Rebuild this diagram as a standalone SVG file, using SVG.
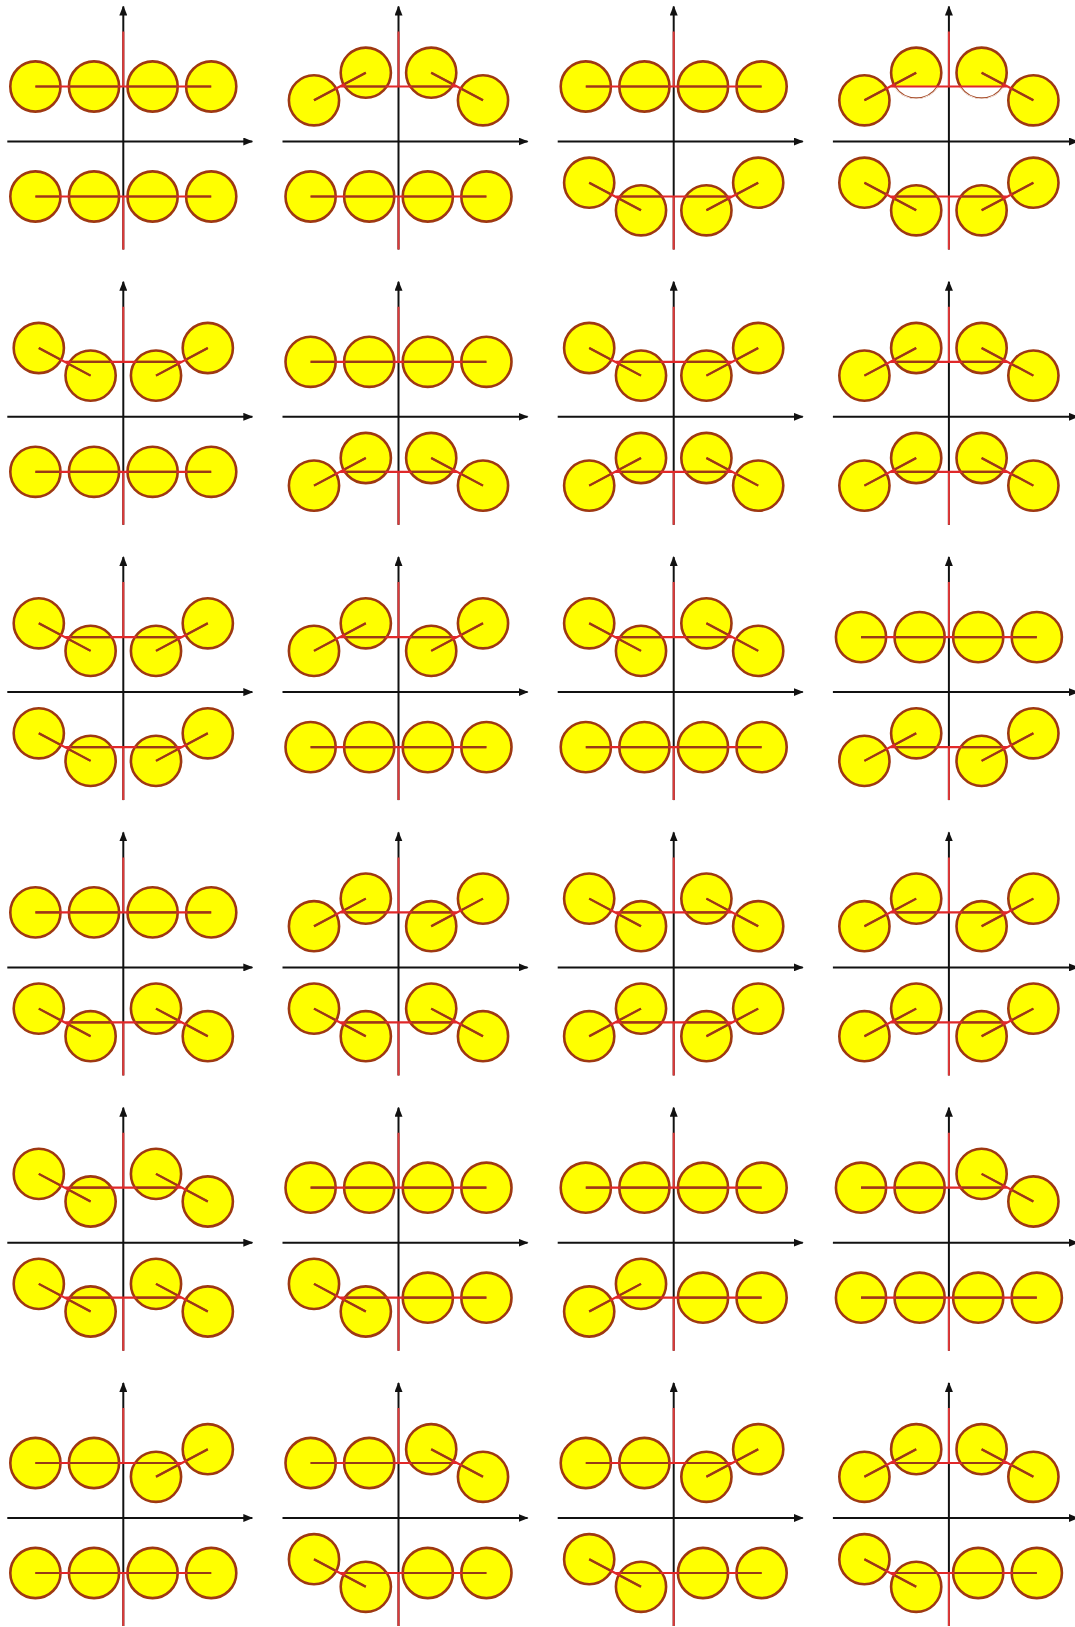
<svg xmlns="http://www.w3.org/2000/svg" xmlns:xlink="http://www.w3.org/1999/xlink" width="1075" height="1627" viewBox="0 0 1075 1627">
<defs>
<style>
.ax{stroke:#111;stroke-width:2;fill:none}
.rv{stroke:#e03838;stroke-width:2;fill:none}
.b{fill:#ffff00;stroke:#9e3812;stroke-width:2.6}
.rl{stroke:#e0282a;stroke-width:2.2;fill:none}
.bl{stroke:#963c16;stroke-width:2.2;fill:none}
.wh{fill:#ffffff;stroke:none}
.th{fill:none;stroke:#a8502e;stroke-width:1.2}
</style>
<marker id="ah" viewBox="0 0 10 8" refX="9" refY="4" markerWidth="10" markerHeight="8" markerUnits="userSpaceOnUse" orient="auto"><path d="M0,0 L10,4 L0,8 z" fill="#111"/></marker>
<clipPath id="kFF"><circle cx="-87.9" cy="0" r="24"/><circle cx="-29.3" cy="0" r="24"/><circle cx="29.3" cy="0" r="24"/><circle cx="87.9" cy="0" r="24"/></clipPath>
<clipPath id="kUU"><circle cx="-84.5" cy="13.8" r="24"/><circle cx="-32.7" cy="-13.8" r="24"/><circle cx="32.7" cy="-13.8" r="24"/><circle cx="84.5" cy="13.8" r="24"/></clipPath>
<clipPath id="kDD"><circle cx="-84.5" cy="-13.8" r="24"/><circle cx="-32.7" cy="13.8" r="24"/><circle cx="32.7" cy="13.8" r="24"/><circle cx="84.5" cy="-13.8" r="24"/></clipPath>
<clipPath id="kUD"><circle cx="-84.5" cy="13.8" r="24"/><circle cx="-32.7" cy="-13.8" r="24"/><circle cx="32.7" cy="13.8" r="24"/><circle cx="84.5" cy="-13.8" r="24"/></clipPath>
<clipPath id="kDU"><circle cx="-84.5" cy="-13.8" r="24"/><circle cx="-32.7" cy="13.8" r="24"/><circle cx="32.7" cy="-13.8" r="24"/><circle cx="84.5" cy="13.8" r="24"/></clipPath>
<clipPath id="kDF"><circle cx="-84.5" cy="-13.8" r="24"/><circle cx="-32.7" cy="13.8" r="24"/><circle cx="29.3" cy="0" r="24"/><circle cx="87.9" cy="0" r="24"/></clipPath>
<clipPath id="kUF"><circle cx="-84.5" cy="13.8" r="24"/><circle cx="-32.7" cy="-13.8" r="24"/><circle cx="29.3" cy="0" r="24"/><circle cx="87.9" cy="0" r="24"/></clipPath>
<clipPath id="kFU"><circle cx="-87.9" cy="0" r="24"/><circle cx="-29.3" cy="0" r="24"/><circle cx="32.7" cy="-13.8" r="24"/><circle cx="84.5" cy="13.8" r="24"/></clipPath>
<clipPath id="kFD"><circle cx="-87.9" cy="0" r="24"/><circle cx="-29.3" cy="0" r="24"/><circle cx="32.7" cy="13.8" r="24"/><circle cx="84.5" cy="-13.8" r="24"/></clipPath>

<g id="axes">
<path class="ax" d="M-116,0 H129" marker-end="url(#ah)"/>
<path class="ax" d="M0,108 V-135" marker-end="url(#ah)"/>
<path class="rv" d="M0,-110 V-55 M0,55 V108"/>
</g>

<g id="cFF">
<circle class="b" cx="-87.9" cy="0" r="25.1"/><circle class="b" cx="-29.3" cy="0" r="25.1"/><circle class="b" cx="29.3" cy="0" r="25.1"/><circle class="b" cx="87.9" cy="0" r="25.1"/>
<path class="rl" d="M-87.9,0 H87.9"/>
<path class="bl" d="M-87.9,0 H87.9" clip-path="url(#kFF)"/>
</g>
<g id="cUU">
<circle class="b" cx="-84.5" cy="13.8" r="25.1"/><circle class="b" cx="-32.7" cy="-13.8" r="25.1"/><circle class="b" cx="32.7" cy="-13.8" r="25.1"/><circle class="b" cx="84.5" cy="13.8" r="25.1"/>
<path class="rl" d="M-84.5,13.8 L-32.7,-13.8 M-58.6,0 H58.6 M32.7,-13.8 L84.5,13.8"/>
<path class="bl" d="M-84.5,13.8 L-32.7,-13.8 M-58.6,0 H58.6 M32.7,-13.8 L84.5,13.8" clip-path="url(#kUU)"/>
</g>
<g id="cUUx">
<circle class="b" cx="-32.7" cy="-13.8" r="25.1"/><circle class="b" cx="32.7" cy="-13.8" r="25.1"/>
<path class="wh" d="M-55.2,0 A26.4,26.4 0 0,0 -10.2,0 Z M10.2,0 A26.4,26.4 0 0,0 55.2,0 Z"/>
<path class="th" d="M-53.67,0 A25.1,25.1 0 0,0 -11.73,0 M11.73,0 A25.1,25.1 0 0,0 53.67,0"/>
<circle class="b" cx="-84.5" cy="13.8" r="25.1"/><circle class="b" cx="84.5" cy="13.8" r="25.1"/>
<path class="rl" d="M-84.5,13.8 L-32.7,-13.8 M-58.6,0 H58.6 M32.7,-13.8 L84.5,13.8"/>
<path class="bl" d="M-84.5,13.8 L-32.7,-13.8 M32.7,-13.8 L84.5,13.8" clip-path="url(#kUU)"/>
</g>
<g id="cDD">
<circle class="b" cx="-84.5" cy="-13.8" r="25.1"/><circle class="b" cx="-32.7" cy="13.8" r="25.1"/><circle class="b" cx="32.7" cy="13.8" r="25.1"/><circle class="b" cx="84.5" cy="-13.8" r="25.1"/>
<path class="rl" d="M-84.5,-13.8 L-32.7,13.8 M-58.6,0 H58.6 M32.7,13.8 L84.5,-13.8"/>
<path class="bl" d="M-84.5,-13.8 L-32.7,13.8 M-58.6,0 H58.6 M32.7,13.8 L84.5,-13.8" clip-path="url(#kDD)"/>
</g>
<g id="cUD">
<circle class="b" cx="-84.5" cy="13.8" r="25.1"/><circle class="b" cx="-32.7" cy="-13.8" r="25.1"/><circle class="b" cx="32.7" cy="13.8" r="25.1"/><circle class="b" cx="84.5" cy="-13.8" r="25.1"/>
<path class="rl" d="M-84.5,13.8 L-32.7,-13.8 M-58.6,0 H58.6 M32.7,13.8 L84.5,-13.8"/>
<path class="bl" d="M-84.5,13.8 L-32.7,-13.8 M-58.6,0 H58.6 M32.7,13.8 L84.5,-13.8" clip-path="url(#kUD)"/>
</g>
<g id="cDU">
<circle class="b" cx="-84.5" cy="-13.8" r="25.1"/><circle class="b" cx="-32.7" cy="13.8" r="25.1"/><circle class="b" cx="32.7" cy="-13.8" r="25.1"/><circle class="b" cx="84.5" cy="13.8" r="25.1"/>
<path class="rl" d="M-84.5,-13.8 L-32.7,13.8 M-58.6,0 H58.6 M32.7,-13.8 L84.5,13.8"/>
<path class="bl" d="M-84.5,-13.8 L-32.7,13.8 M-58.6,0 H58.6 M32.7,-13.8 L84.5,13.8" clip-path="url(#kDU)"/>
</g>
<g id="cDF">
<circle class="b" cx="-84.5" cy="-13.8" r="25.1"/><circle class="b" cx="-32.7" cy="13.8" r="25.1"/><circle class="b" cx="29.3" cy="0" r="25.1"/><circle class="b" cx="87.9" cy="0" r="25.1"/>
<path class="rl" d="M-84.5,-13.8 L-32.7,13.8 M-58.6,0 H87.9"/>
<path class="bl" d="M-84.5,-13.8 L-32.7,13.8 M-58.6,0 H87.9" clip-path="url(#kDF)"/>
</g>
<g id="cUF">
<circle class="b" cx="-84.5" cy="13.8" r="25.1"/><circle class="b" cx="-32.7" cy="-13.8" r="25.1"/><circle class="b" cx="29.3" cy="0" r="25.1"/><circle class="b" cx="87.9" cy="0" r="25.1"/>
<path class="rl" d="M-84.5,13.8 L-32.7,-13.8 M-58.6,0 H87.9"/>
<path class="bl" d="M-84.5,13.8 L-32.7,-13.8 M-58.6,0 H87.9" clip-path="url(#kUF)"/>
</g>
<g id="cFU">
<circle class="b" cx="-87.9" cy="0" r="25.1"/><circle class="b" cx="-29.3" cy="0" r="25.1"/><circle class="b" cx="32.7" cy="-13.8" r="25.1"/><circle class="b" cx="84.5" cy="13.8" r="25.1"/>
<path class="rl" d="M-87.9,0 H58.6 M32.7,-13.8 L84.5,13.8"/>
<path class="bl" d="M-87.9,0 H58.6 M32.7,-13.8 L84.5,13.8" clip-path="url(#kFU)"/>
</g>
<g id="cFD">
<circle class="b" cx="-87.9" cy="0" r="25.1"/><circle class="b" cx="-29.3" cy="0" r="25.1"/><circle class="b" cx="32.7" cy="13.8" r="25.1"/><circle class="b" cx="84.5" cy="-13.8" r="25.1"/>
<path class="rl" d="M-87.9,0 H58.6 M32.7,13.8 L84.5,-13.8"/>
<path class="bl" d="M-87.9,0 H58.6 M32.7,13.8 L84.5,-13.8" clip-path="url(#kFD)"/>
</g>
</defs>
<rect width="1075" height="1627" fill="#ffffff"/>

<g id="p-1-1" transform="translate(123.3,141.5)"><use href="#axes"/><use href="#cFF" y="-55"/><use href="#cFF" y="55"/></g>
<g id="p-1-2" transform="translate(398.5,141.5)"><use href="#axes"/><use href="#cUU" y="-55"/><use href="#cFF" y="55"/></g>
<g id="p-1-3" transform="translate(673.7,141.5)"><use href="#axes"/><use href="#cFF" y="-55"/><use href="#cDD" y="55"/></g>
<g id="p-1-4" transform="translate(948.9,141.5)"><use href="#axes"/><use href="#cUUx" y="-55"/><use href="#cDD" y="55"/></g>

<g id="p-2-1" transform="translate(123.3,416.8)"><use href="#axes"/><use href="#cDD" y="-55"/><use href="#cFF" y="55"/></g>
<g id="p-2-2" transform="translate(398.5,416.8)"><use href="#axes"/><use href="#cFF" y="-55"/><use href="#cUU" y="55"/></g>
<g id="p-2-3" transform="translate(673.7,416.8)"><use href="#axes"/><use href="#cDD" y="-55"/><use href="#cUU" y="55"/></g>
<g id="p-2-4" transform="translate(948.9,416.8)"><use href="#axes"/><use href="#cUU" y="-55"/><use href="#cUU" y="55"/></g>

<g id="p-3-1" transform="translate(123.3,692.1)"><use href="#axes"/><use href="#cDD" y="-55"/><use href="#cDD" y="55"/></g>
<g id="p-3-2" transform="translate(398.5,692.1)"><use href="#axes"/><use href="#cUD" y="-55"/><use href="#cFF" y="55"/></g>
<g id="p-3-3" transform="translate(673.7,692.1)"><use href="#axes"/><use href="#cDU" y="-55"/><use href="#cFF" y="55"/></g>
<g id="p-3-4" transform="translate(948.9,692.1)"><use href="#axes"/><use href="#cFF" y="-55"/><use href="#cUD" y="55"/></g>

<g id="p-4-1" transform="translate(123.3,967.4)"><use href="#axes"/><use href="#cFF" y="-55"/><use href="#cDU" y="55"/></g>
<g id="p-4-2" transform="translate(398.5,967.4)"><use href="#axes"/><use href="#cUD" y="-55"/><use href="#cDU" y="55"/></g>
<g id="p-4-3" transform="translate(673.7,967.4)"><use href="#axes"/><use href="#cDU" y="-55"/><use href="#cUD" y="55"/></g>
<g id="p-4-4" transform="translate(948.9,967.4)"><use href="#axes"/><use href="#cUD" y="-55"/><use href="#cUD" y="55"/></g>

<g id="p-5-1" transform="translate(123.3,1242.7)"><use href="#axes"/><use href="#cDU" y="-55"/><use href="#cDU" y="55"/></g>
<g id="p-5-2" transform="translate(398.5,1242.7)"><use href="#axes"/><use href="#cFF" y="-55"/><use href="#cDF" y="55"/></g>
<g id="p-5-3" transform="translate(673.7,1242.7)"><use href="#axes"/><use href="#cFF" y="-55"/><use href="#cUF" y="55"/></g>
<g id="p-5-4" transform="translate(948.9,1242.7)"><use href="#axes"/><use href="#cFU" y="-55"/><use href="#cFF" y="55"/></g>

<g id="p-6-1" transform="translate(123.3,1518)"><use href="#axes"/><use href="#cFD" y="-55"/><use href="#cFF" y="55"/></g>
<g id="p-6-2" transform="translate(398.5,1518)"><use href="#axes"/><use href="#cFU" y="-55"/><use href="#cDF" y="55"/></g>
<g id="p-6-3" transform="translate(673.7,1518)"><use href="#axes"/><use href="#cFD" y="-55"/><use href="#cDF" y="55"/></g>
<g id="p-6-4" transform="translate(948.9,1518)"><use href="#axes"/><use href="#cUU" y="-55"/><use href="#cDF" y="55"/></g>
</svg>
